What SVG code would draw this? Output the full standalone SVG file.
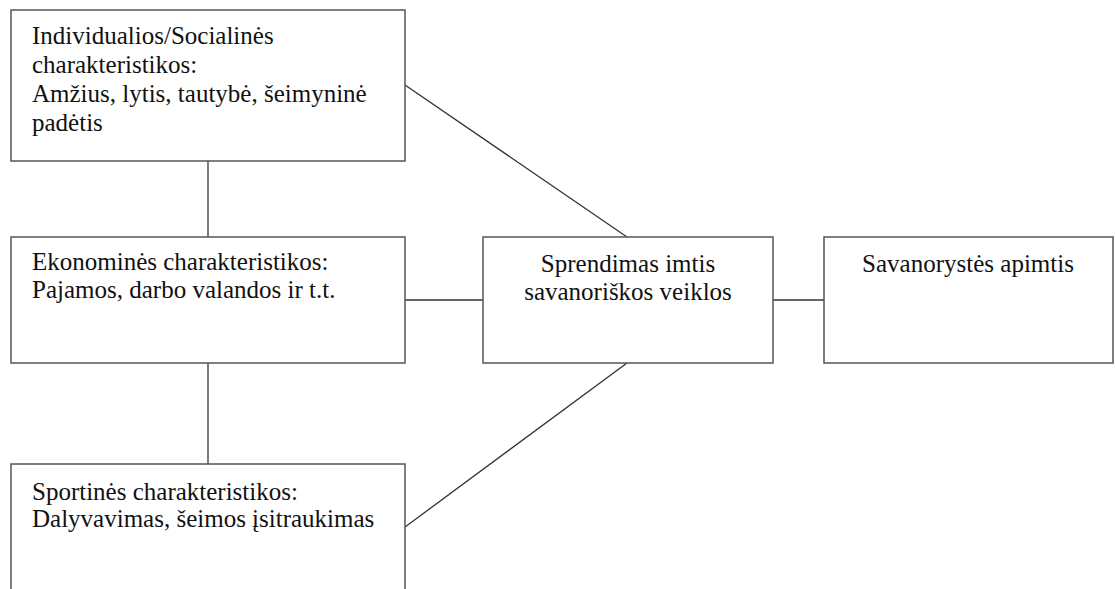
<svg xmlns="http://www.w3.org/2000/svg" width="1116" height="589" viewBox="0 0 1116 589">
<style>
.box{fill:#fff;stroke:#555;stroke-width:1.5}
.ln{stroke:#333;stroke-width:1.3;fill:none}
.t{font-family:'Liberation Serif','Times New Roman',serif;font-size:25px;fill:#111}
.c{text-anchor:middle}
</style>
<rect width="1116" height="589" fill="#fff"/>
<g id="connectors">
<line class="ln" x1="208" y1="161" x2="208" y2="237"/>
<line class="ln" x1="208" y1="363" x2="208" y2="464"/>
<line class="ln" x1="405" y1="300" x2="483" y2="300"/>
<line class="ln" x1="773" y1="300" x2="824" y2="300"/>
<line class="ln" x1="405" y1="85" x2="627" y2="237"/>
<line class="ln" x1="405" y1="527" x2="627" y2="363"/>
</g>
<g id="n1">
<rect class="box" x="11" y="10" width="394" height="151"/>
<text class="t" x="32" y="44">Individualios/Socialinės</text>
<text class="t" x="32" y="73">charakteristikos:</text>
<text class="t" x="32" y="102">Amžius, lytis, tautybė, šeimyninė</text>
<text class="t" x="32" y="131">padėtis</text>
</g>
<g id="n2">
<rect class="box" x="11" y="237" width="394" height="126"/>
<text class="t" x="32" y="270">Ekonominės charakteristikos:</text>
<text class="t" x="32" y="298">Pajamos, darbo valandos ir t.t.</text>
</g>
<g id="n3">
<rect class="box" x="11" y="464" width="394" height="140"/>
<text class="t" x="32" y="500">Sportinės charakteristikos:</text>
<text class="t" x="32" y="527">Dalyvavimas, šeimos įsitraukimas</text>
</g>
<g id="n4">
<rect class="box" x="483" y="237" width="290" height="126"/>
<text class="t c" x="628" y="272">Sprendimas imtis</text>
<text class="t c" x="628" y="300">savanoriškos veiklos</text>
</g>
<g id="n5">
<rect class="box" x="824" y="237" width="289" height="126"/>
<text class="t c" x="968" y="272">Savanorystės apimtis</text>
</g>
</svg>
